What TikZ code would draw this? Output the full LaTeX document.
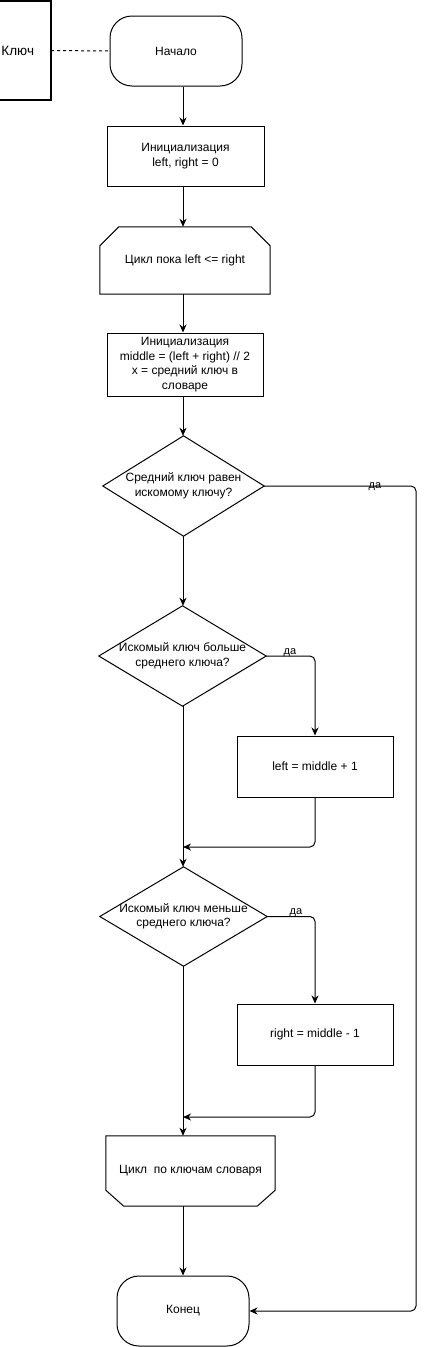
\documentclass[tikz,border=0pt]{standalone}
\usepackage{fontspec}
\setmainfont{Liberation Sans}
\usetikzlibrary{arrows.meta}
\newcommand{\fsmain}{\fontsize{12}{14.5}\selectfont}
\newcommand{\fslab}{\fontsize{11}{13}\selectfont}
\newcommand{\fskey}{\fontsize{13.5}{16}\selectfont}
\tikzset{
  base/.style={inner sep=0pt, align=center, font=\fsmain},
  proc/.style={base, draw, line width=1pt},
  term/.style={base, draw, line width=1pt, rounded corners=22pt},
  line/.style={line width=1pt},
  arr/.style={line, -{Stealth[length=8pt,width=7pt,inset=2.5pt]}},
  lbl/.style={font=\fslab, inner sep=0pt},
}
\begin{document}
\begin{tikzpicture}[x=1pt,y=-1pt]
\useasboundingbox (0,0) rectangle (427,1347);
\coordinate (axis) at (183,0);
\coordinate (rline) at (416,0);

% annotation
\node[base, font=\fskey, minimum height=99, text width=48, inner xsep=1.5pt, align=left] (key) at (25.5,50.5) {Ключ};
\draw[line width=1.5pt] (key.north west) -- (key.north east) -- (key.south east) -- (key.south west);

\node[term, minimum width=132, minimum height=70] (start) at (176,51) {Начало};
\draw[line, dashed, dash pattern=on 3pt off 3pt] (key.east) -- (start.west);

\node[proc, minimum width=157, minimum height=60] (init1) at (185.5,156) {Инициализация\\left, right = 0};

\node[base, minimum width=170, minimum height=67] (loop1) at (185,260.5) {Цикл пока left <= right};
\draw[line] ([yshift=-19pt]loop1.north west) -- ([xshift=19pt]loop1.north west) -- ([xshift=-19pt]loop1.north east) -- ([yshift=-19pt]loop1.north east) -- (loop1.south east) -- (loop1.south west) -- cycle;

\node[proc, minimum width=156, minimum height=63] (init2) at (185,364.5) {Инициализация\\middle = (left + right) // 2\\x = средний ключ в\\словаре};

\node[base, minimum width=161, minimum height=100] (d1) at (183.5,486) {Средний ключ равен\\искомому ключу?};
\draw[line] (d1.north) -- (d1.east) -- (d1.south) -- (d1.west) -- cycle;

\node[base, minimum width=167, minimum height=100] (d2) at (182.5,656) {Искомый ключ больше\\среднего ключа?};
\draw[line] (d2.north) -- (d2.east) -- (d2.south) -- (d2.west) -- cycle;

\node[proc, minimum width=156, minimum height=61] (b3) at (315,766.5) {left = middle + 1};
\coordinate (m1) at (183,847);

\node[base, minimum width=167, minimum height=99] (d3) at (183.5,916.5) {Искомый ключ меньше\\среднего ключа?};
\draw[line] (d3.north) -- (d3.east) -- (d3.south) -- (d3.west) -- cycle;

\node[proc, minimum width=156, minimum height=61] (b4) at (315,1034.5) {right = middle - 1};
\coordinate (m2) at (183,1117);

\node[base, minimum width=169, minimum height=70] (loop2) at (190.5,1171) {Цикл\ \ по ключам словаря};
\draw[line] (loop2.north west) -- (loop2.north east) -- ([yshift=16pt]loop2.south east) -- ([xshift=-18pt]loop2.south east) -- ([xshift=18pt]loop2.south west) -- ([yshift=16pt]loop2.south west) -- cycle;

\node[term, minimum width=132, minimum height=70] (end) at (183,1311) {Конец};

% connectors
\draw[arr] (start.south -| axis) -- (init1.north -| axis);
\draw[arr] (init1.south -| axis) -- (loop1.north -| axis);
\draw[arr] (loop1.south -| axis) -- (init2.north -| axis);
\draw[arr] (init2.south -| axis) -- (d1.north -| axis);
\draw[arr] (d1.south -| axis) -- (d2.north -| axis);
\draw[arr] (d2.south -| axis) -- (d3.north -| axis);
\draw[arr] (d3.south -| axis) -- (loop2.north -| axis);
\draw[arr] (loop2.south -| axis) -- (end.north -| axis);

\draw[arr, rounded corners=5pt] (d1.east) -- (d1.east -| rline) -- (end.east -| rline) -- (end.east);
\node[lbl] (yes1) at (375,487) {да};

\draw[arr, rounded corners=5pt] (d2.east) -| (b3.north);
\node[lbl] (yes2) at (290,653) {да};
\draw[arr, rounded corners=5pt] (b3.south) |- (m1);

\draw[arr, rounded corners=5pt] (d3.east) -| (b4.north);
\node[lbl] (yes3) at (296,913) {да};
\draw[arr, rounded corners=5pt] (b4.south) |- (m2);
\end{tikzpicture}
\end{document}
